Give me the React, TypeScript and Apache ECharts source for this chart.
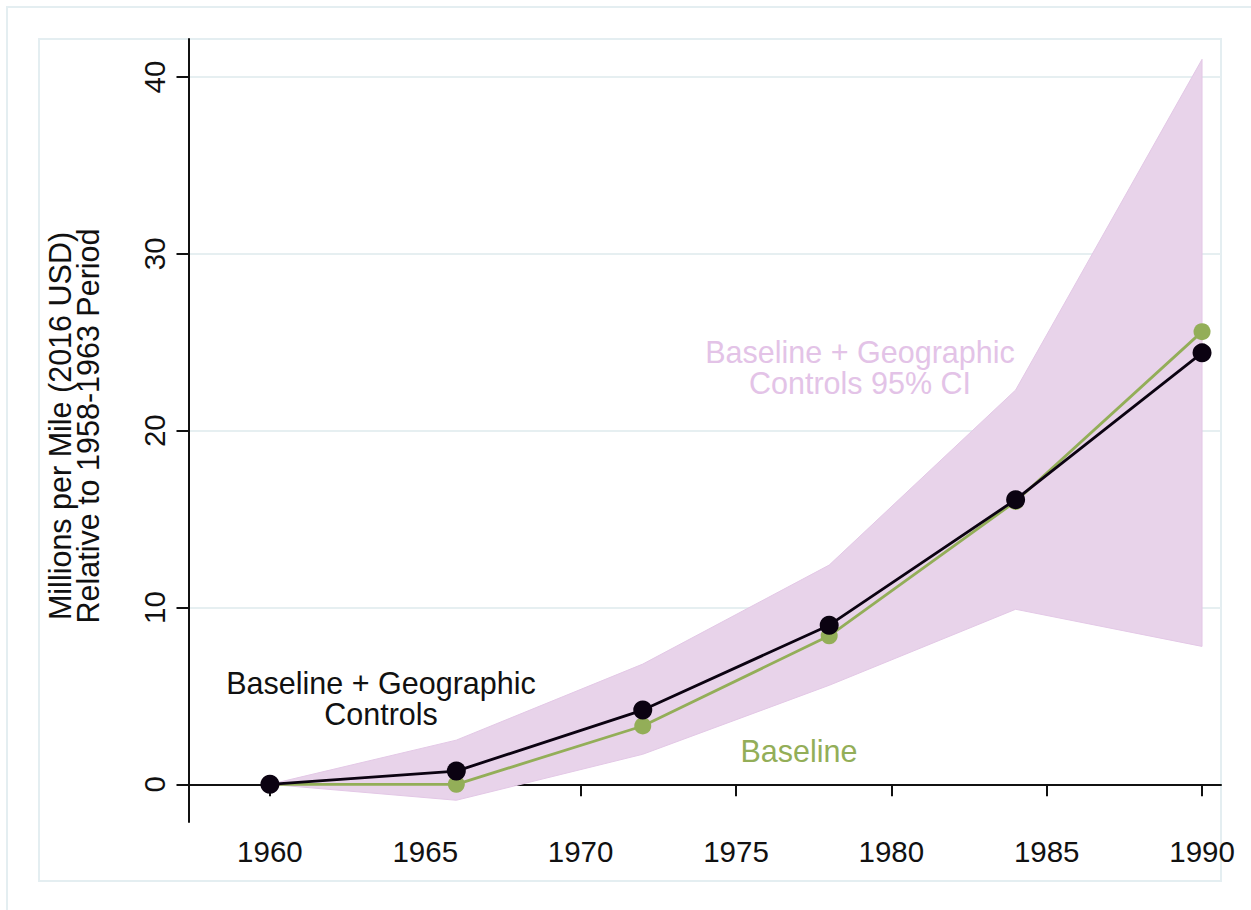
import React, { useEffect, useRef } from "react";
import * as echarts from "echarts";

const years = [1960, 1966, 1972, 1978, 1984, 1990];
const geoControls = [0, 0.75, 4.2, 9.0, 16.1, 24.4];
const baseline = [0, 0, 3.3, 8.4, 16.0, 25.6];
const ciUpper = [0, 2.5, 6.8, 12.4, 22.3, 41.0];
const ciLower = [0, -0.9, 1.7, 5.6, 9.9, 7.8];
const xTicks = [1960, 1965, 1970, 1975, 1980, 1985, 1990];
const yTicks = [0, 10, 20, 30, 40];

const FONT = "Liberation Sans, Arial, Helvetica, sans-serif";
const BLACK = "#0b0211";
const GREEN = "#93ae58";
const FILL = "#e8d3ea";
const PINK_TEXT = "#e3c3e7";
const GRID = "#e6eff1";

export default function App() {
  const ref = useRef<HTMLDivElement>(null);
  useEffect(() => {
    if (!ref.current) return;
    const chart = echarts.init(ref.current, undefined, { renderer: "svg" });
    chart.setOption({
      animation: false,
      backgroundColor: "#ffffff",
      grid: { left: 188.5, right: 30, top: 39, bottom: 88 },
      xAxis: {
        type: "value",
        min: 1957.38,
        max: 1990.61,
        axisLine: { show: true, lineStyle: { color: "#111", width: 2 } },
        axisTick: { show: true, length: 12, lineStyle: { color: "#111", width: 2 }, customValues: xTicks },
        axisLabel: {
          customValues: xTicks,
          formatter: (v: number) => String(v),
          color: "#111",
          fontSize: 29.5,
          fontFamily: FONT,
          margin: 14,
        },
        splitLine: { show: false },
      },
      yAxis: {
        type: "value",
        min: -2.13,
        max: 42.15,
        axisLine: { show: true, lineStyle: { color: "#111", width: 2 } },
        axisTick: { show: true, length: 12, lineStyle: { color: "#111", width: 2 }, customValues: yTicks },
        axisLabel: {
          customValues: yTicks,
          formatter: (v: number) => String(v),
          color: "#111",
          fontSize: 29.5,
          fontFamily: FONT,
          rotate: 90,
          margin: 19,
        },
        splitLine: { show: true, lineStyle: { color: GRID, width: 2 } },
      },
      graphic: [
        { type: "rect", silent: true, shape: { x: 7, y: 7, width: 1300, height: 1000 }, style: { fill: "none", stroke: "#e4eef1", lineWidth: 2 }, z: -10 },
        { type: "rect", silent: true, shape: { x: 39, y: 39, width: 1182, height: 842 }, style: { fill: "none", stroke: "#e4eef1", lineWidth: 2 }, z: -10 },
        {
          type: "text",
          x: 74,
          y: 426,
          rotation: Math.PI / 2,
          style: {
            text: "Millions per Mile (2016 USD)\nRelative to 1958-1963 Period",
            font: `30.5px ${FONT}`,
            fill: "#111",
            align: "center",
            verticalAlign: "middle",
            lineHeight: 28,
          },
        },
        {
          type: "text",
          x: 381,
          y: 698,
          style: {
            text: "Baseline + Geographic\nControls",
            font: `30.5px ${FONT}`,
            fill: "#111",
            align: "center",
            verticalAlign: "middle",
            lineHeight: 31,
          },
        },
        {
          type: "text",
          x: 860,
          y: 367,
          style: {
            text: "Baseline + Geographic\nControls 95% CI",
            font: `30.5px ${FONT}`,
            fill: PINK_TEXT,
            align: "center",
            verticalAlign: "middle",
            lineHeight: 31,
          },
        },
        {
          type: "text",
          x: 799,
          y: 751,
          style: {
            text: "Baseline",
            font: `30.5px ${FONT}`,
            fill: GREEN,
            align: "center",
            verticalAlign: "middle",
          },
        },
      ],
      series: [
        {
          type: "custom",
          name: "CI",
          data: years.map((y) => [y]),
          encode: { x: 0 },
          z: 1,
          silent: true,
          renderItem: (params: any, api: any) => {
            if (params.dataIndex !== 0) return null;
            const up = years.map((yr, i) => api.coord([yr, ciUpper[i]]));
            const lo = years.map((yr, i) => api.coord([yr, ciLower[i]])).reverse();
            return {
              type: "polygon",
              shape: { points: [...up, ...lo] },
              style: { fill: FILL, stroke: "#e3c8e6", lineWidth: 1 },
            };
          },
        },
        {
          type: "line",
          name: "Baseline",
          data: years.map((y, i) => [y, baseline[i]]),
          z: 3,
          symbol: "circle",
          symbolSize: 17,
          lineStyle: { color: GREEN, width: 2.8 },
          itemStyle: { color: GREEN },
        },
        {
          type: "line",
          name: "Baseline + Geographic Controls",
          data: years.map((y, i) => [y, geoControls[i]]),
          z: 4,
          symbol: "circle",
          symbolSize: 19,
          lineStyle: { color: BLACK, width: 2.8 },
          itemStyle: { color: BLACK },
        },
      ],
    });
    return () => chart.dispose();
  }, []);
  return (
    <div
      ref={ref}
      style={{ position: "fixed", left: 0, top: 0, width: 1251, height: 910 }}
    />
  );
}
